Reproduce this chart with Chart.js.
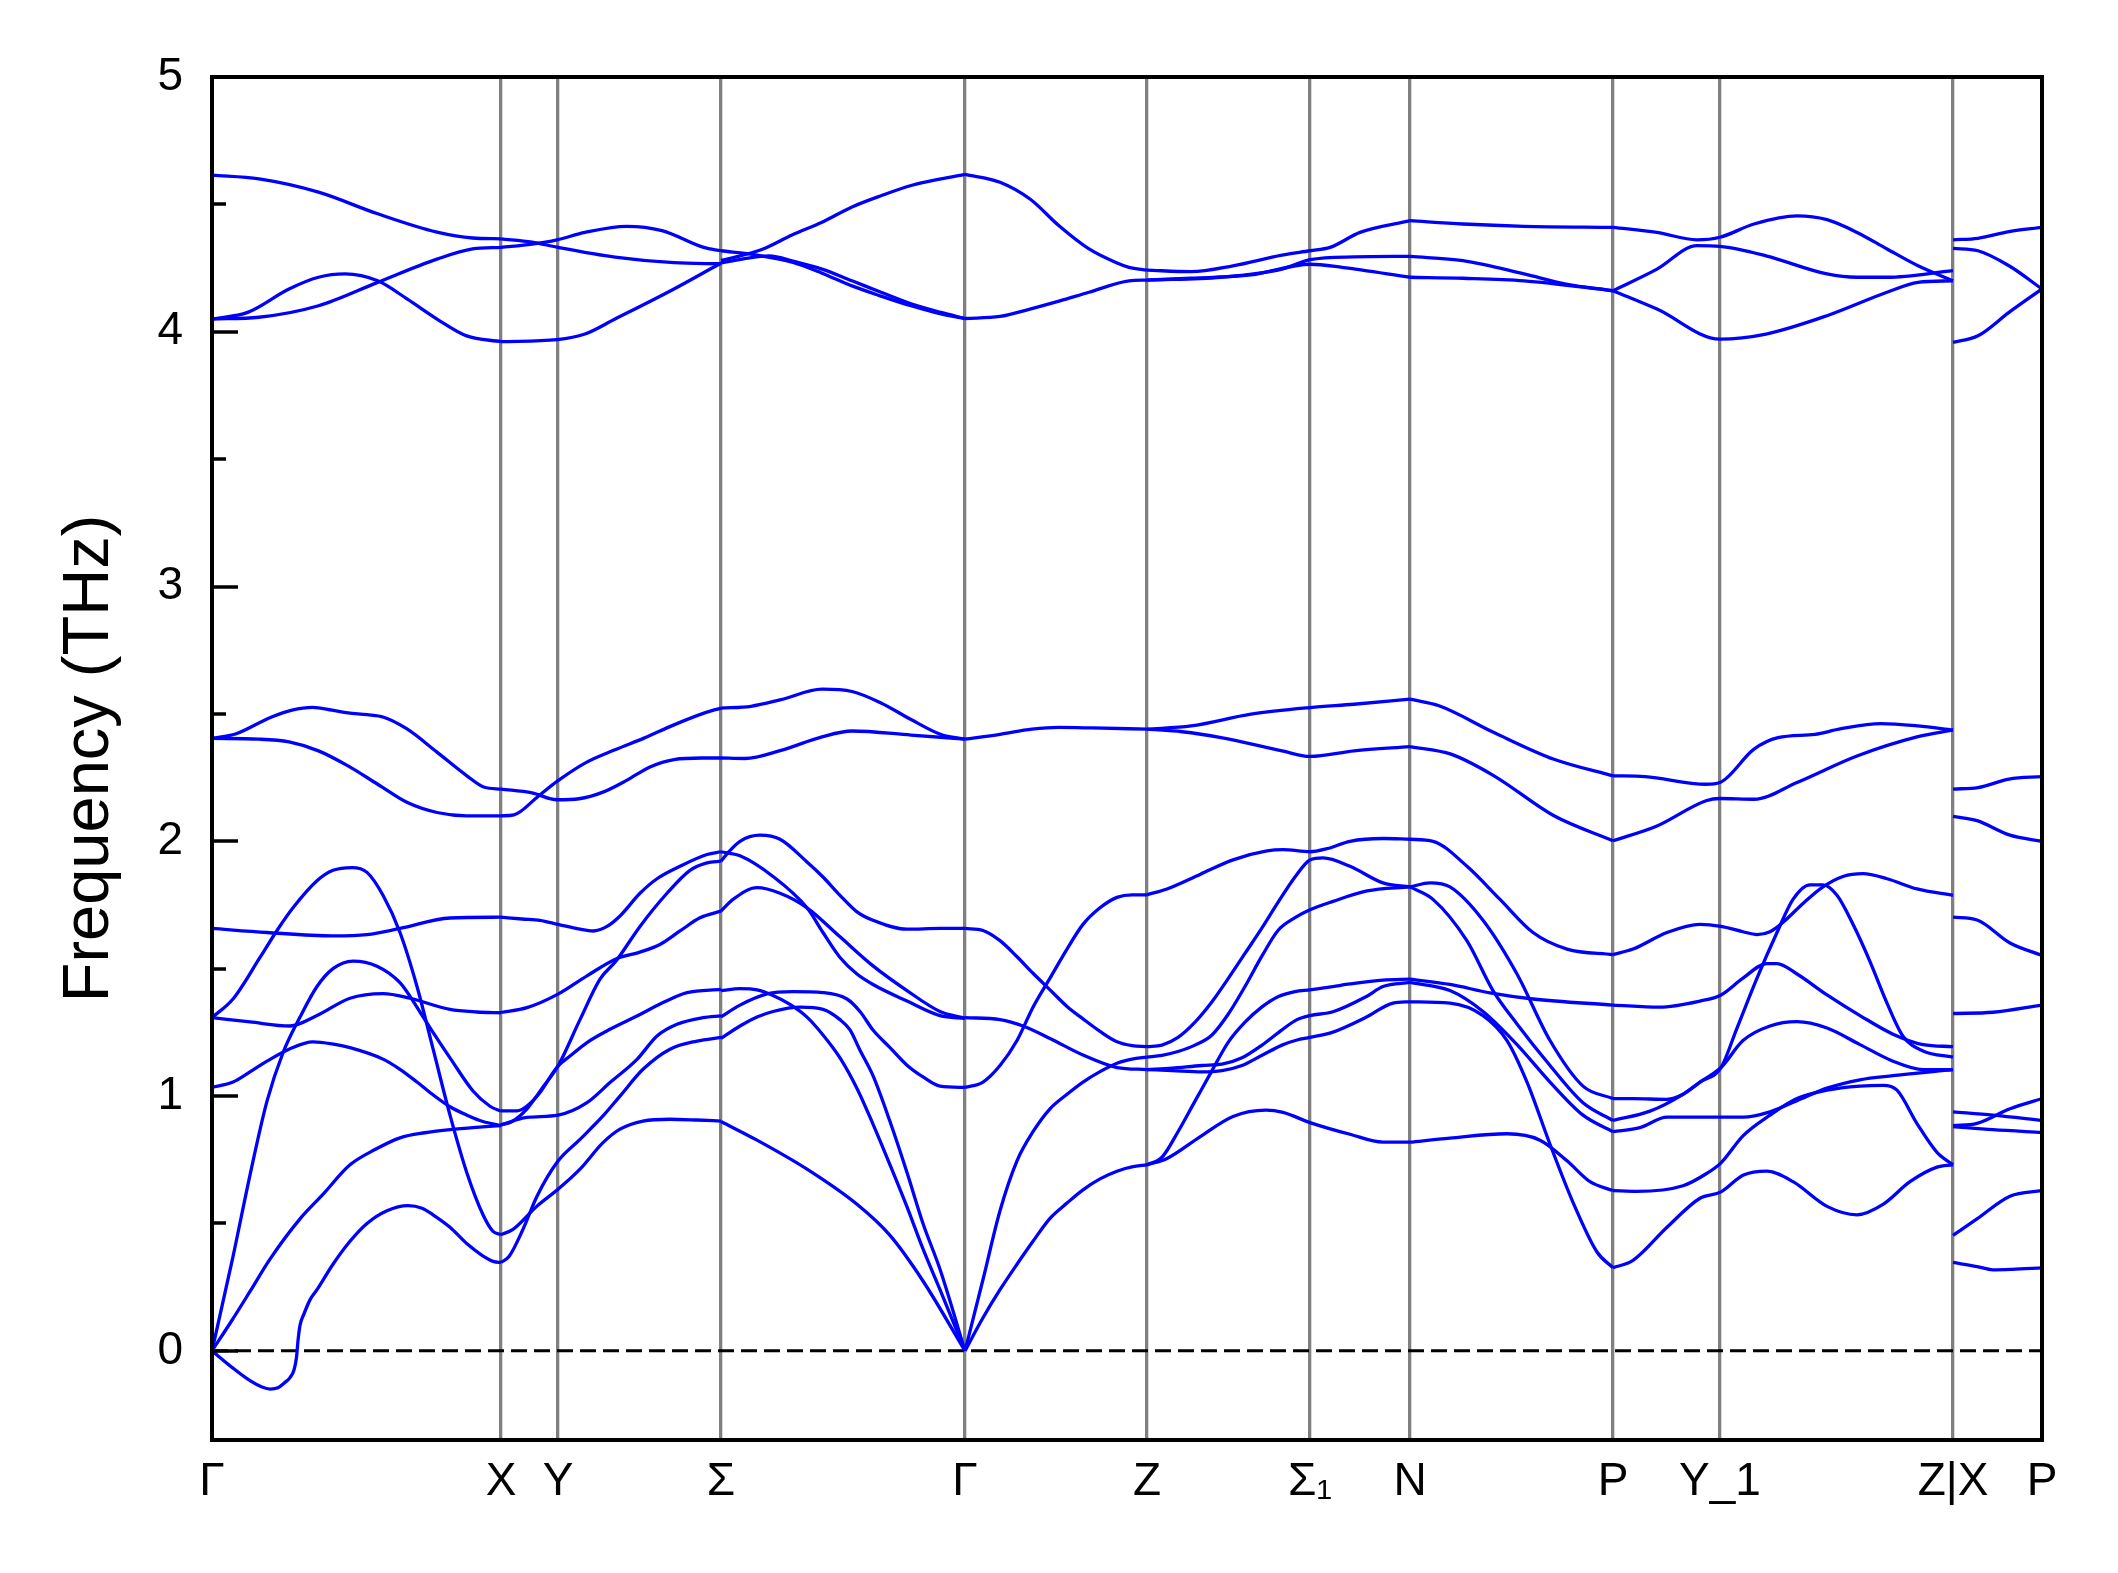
<!DOCTYPE html>
<html>
<head>
<meta charset="utf-8">
<script src="https://cdn.jsdelivr.net/npm/chart.js"></script>
<style>
  html, body { margin: 0; padding: 0; background: #ffffff; }
  #wrap { width: 2118px; height: 1573px; }
</style>
</head>
<body>
<div id="wrap"><canvas id="c" width="2118" height="1573"></canvas></div>
<script>
// High-symmetry points (path coordinate) and labels
const kPos = [0, 289, 346, 509, 753, 935, 1098, 1198, 1401, 1508, 1741, 1830];
const kLabels = ['Γ', 'X', 'Y', 'Σ', 'Γ', 'Z', 'Σ₁', 'N', 'P', 'Y_1', 'Z|X', 'P'];
const yTickVals = [0, 0.5, 1, 1.5, 2, 2.5, 3, 3.5, 4, 4.5, 5];

// Band lines per path section: each line is a list of [k, frequency (THz)]
const secGammaX = [
  [[0,0],[21,-0.068],[38,-0.117],[50,-0.142],[58,-0.15],[66,-0.145],[72,-0.127],[78,-0.105],[82,-0.075],[84.5,-0.025],[86,0.04],[88,0.10],[92,0.145],[98,0.2],[105,0.24],[121,0.34],[138,0.43],[155,0.50],[175,0.55],[196,0.57],[210,0.56],[221,0.534],[238,0.485],[255,0.42],[270,0.375],[282,0.35],[289,0.347]],
  [[0,0],[20,0.12],[38,0.233],[58,0.36],[88,0.518],[110,0.61],[138,0.73],[163,0.79],[188,0.836],[213,0.856],[238,0.868],[264,0.877],[289,0.884]],
  [[0,0],[21,0.37],[38,0.69],[55,0.98],[71,1.17],[88,1.31],[105,1.43],[121,1.50],[141,1.53],[165,1.51],[188,1.445],[208,1.33],[221,1.25],[238,1.15],[261,1.02],[278,0.96],[289,0.94]],
  [[0,1.034],[21,1.055],[40,1.10],[55,1.137],[78,1.186],[101,1.213],[120,1.205],[138,1.19],[171,1.145],[188,1.105],[205,1.055],[221,1.005],[238,0.958],[255,0.925],[271,0.90],[289,0.884]],
  [[0,1.308],[21,1.381],[48,1.544],[65,1.65],[81,1.739],[105,1.845],[121,1.886],[140,1.897],[155,1.878],[171,1.788],[188,1.642],[205,1.43],[221,1.186],[238,0.925],[255,0.697],[271,0.534],[281,0.469],[289,0.456]],
  [[0,1.308],[38,1.291],[78,1.275],[105,1.316],[138,1.384],[171,1.402],[198,1.384],[238,1.34],[265,1.33],[289,1.327]],
  [[0,1.658],[55,1.642],[121,1.629],[155,1.634],[188,1.658],[238,1.699],[289,1.702]],
  [[0,2.404],[23.5,2.421],[59,2.487],[80,2.515],[100.6,2.526],[120,2.515],[136,2.504],[155,2.497],[171.7,2.487],[195,2.441],[225,2.35],[254.6,2.258],[272.4,2.212],[289,2.205]],
  [[0,2.404],[47,2.401],[77,2.39],[106.5,2.355],[136,2.296],[165.7,2.224],[195.4,2.152],[225,2.113],[254.6,2.10],[289,2.10]],
  [[0,4.615],[47,4.60],[106.5,4.548],[165.7,4.463],[225,4.391],[260.6,4.368],[289,4.365]],
  [[0,4.05],[35.6,4.076],[77,4.168],[106.5,4.214],[133,4.227],[165.7,4.20],[195.4,4.128],[225,4.05],[254.6,3.984],[289,3.961]],
  [[0,4.05],[47,4.057],[106.5,4.102],[165.7,4.194],[225,4.285],[260.6,4.325],[289,4.331]]
];

const secXSigma = [
  [[289,0.347],[297,0.37],[311,0.477],[325,0.607],[346,0.745],[368,0.83],[391,0.922],[408,1.0],[431,1.105],[458,1.184],[485,1.216],[509,1.23]],
  [[289,0.456],[301,0.477],[325,0.568],[346,0.634],[368,0.713],[391,0.817],[408,0.87],[431,0.902],[458,0.909],[485,0.906],[509,0.902]],
  [[289,0.887],[315,0.916],[346,0.925],[375,0.974],[398,1.053],[425,1.144],[445,1.236],[465,1.282],[491,1.308],[509,1.315]],
  [[289,0.887],[300,0.90],[315,0.95],[330,1.03],[346,1.118],[368,1.30],[388,1.459],[404,1.53],[428,1.666],[455,1.796],[478,1.886],[495,1.915],[509,1.922]],
  [[289,0.942],[305,0.942],[315,0.961],[328,1.014],[341,1.092],[346,1.118],[358,1.157],[375,1.21],[398,1.262],[425,1.314],[451,1.367],[475,1.406],[509,1.419]],
  [[289,1.328],[315,1.347],[346,1.40],[375,1.472],[405,1.54],[428,1.565],[448,1.595],[468,1.648],[488,1.70],[509,1.726]],
  [[289,1.702],[310,1.695],[328,1.69],[346,1.674],[368,1.655],[381,1.648],[395,1.666],[408,1.707],[428,1.796],[445,1.853],[468,1.902],[495,1.948],[509,1.959]],
  [[289,2.205],[320,2.19],[345,2.163],[367,2.167],[391,2.193],[414.6,2.239],[438,2.292],[462,2.321],[490,2.327],[509,2.327]],
  [[289,2.10],[302,2.104],[326,2.176],[345,2.235],[373,2.307],[403,2.359],[432,2.405],[462,2.457],[492,2.503],[509,2.523]],
  [[289,4.365],[320,4.352],[345,4.332],[403,4.293],[462,4.271],[509,4.267]],
  [[289,3.961],[345,3.969],[373,3.991],[403,4.05],[462,4.168],[509,4.27]],
  [[289,4.331],[320,4.344],[345,4.361],[373,4.39],[414.6,4.414],[450,4.397],[491.7,4.331],[509,4.318]]
];

const secSigmaGamma = [
  [[509,1.922],[515,1.951],[528,2.0],[548,2.024],[568,2.008],[595,1.919],[611,1.86],[628,1.788],[645,1.723],[661,1.69],[695,1.655],[728,1.658],[753,1.658]],
  [[509,1.959],[528,1.943],[561,1.862],[595,1.739],[611,1.642],[628,1.544],[645,1.479],[661,1.438],[695,1.373],[728,1.316],[753,1.305]],
  [[509,1.726],[521,1.772],[545,1.818],[568,1.796],[595,1.739],[628,1.625],[661,1.511],[695,1.414],[728,1.332],[753,1.305]],
  [[509,1.414],[528,1.422],[545,1.417],[561,1.395],[578,1.36],[595,1.31],[611,1.24],[628,1.15],[645,1.03],[661,0.89],[678,0.73],[695,0.565],[711,0.40],[728,0.24],[753,0]],
  [[509,1.311],[528,1.357],[555,1.401],[581,1.41],[611,1.406],[635,1.381],[648,1.332],[661,1.259],[678,1.19],[695,1.121],[711,1.075],[728,1.039],[753,1.034]],
  [[509,1.226],[528,1.275],[545,1.31],[561,1.332],[588,1.349],[611,1.34],[628,1.30],[638,1.26],[648,1.18],[661,1.08],[678,0.90],[695,0.70],[711,0.50],[728,0.32],[753,0]],
  [[509,0.90],[545,0.827],[595,0.713],[645,0.575],[678,0.453],[711,0.274],[753,0]],
  [[509,2.327],[533,2.325],[569,2.357],[610,2.41],[640,2.433],[699,2.417],[753,2.401]],
  [[509,2.523],[539,2.53],[569,2.556],[610,2.597],[640,2.588],[669,2.543],[699,2.478],[729,2.419],[753,2.401]],
  [[509,4.28],[530,4.30],[551,4.325],[580,4.38],[610,4.43],[640,4.49],[669,4.534],[700,4.575],[729,4.60],[753,4.618]],
  [[509,4.318],[545,4.301],[581,4.272],[610,4.23],[640,4.18],[669,4.14],[699,4.102],[729,4.07],[753,4.052]],
  [[509,4.27],[530,4.285],[557,4.298],[583,4.275],[610,4.246],[640,4.20],[669,4.155],[699,4.11],[729,4.076],[753,4.052]]
];

const secGammaZ = [
  [[753,0],[771,0.28],[788,0.55],[805,0.746],[821,0.86],[838,0.95],[855,1.007],[871,1.055],[888,1.096],[905,1.129],[920,1.145],[935,1.153]],
  [[753,0],[771,0.13],[788,0.24],[805,0.34],[821,0.43],[838,0.52],[855,0.58],[871,0.632],[888,0.675],[905,0.705],[920,0.722],[935,0.73]],
  [[753,1.034],[771,1.055],[788,1.12],[805,1.218],[821,1.349],[838,1.463],[855,1.577],[871,1.674],[888,1.739],[905,1.78],[920,1.79],[935,1.79]],
  [[753,1.658],[771,1.65],[788,1.61],[805,1.547],[821,1.482],[838,1.417],[855,1.352],[871,1.303],[888,1.254],[905,1.213],[920,1.198],[935,1.194]],
  [[753,1.308],[788,1.30],[811,1.275],[838,1.226],[871,1.161],[905,1.112],[935,1.104]],
  [[753,2.401],[788,2.42],[820,2.44],[847,2.447],[880,2.445],[935,2.44]],
  [[753,4.618],[788,4.587],[818,4.521],[847,4.416],[877,4.325],[905,4.27],[917,4.253],[935,4.242]],
  [[753,4.052],[788,4.06],[818,4.089],[847,4.12],[877,4.155],[917,4.20],[935,4.203]]
];

const secZN = [
  [[935,1.79],[955,1.813],[988,1.87],[1021,1.927],[1055,1.962],[1071,1.967],[1098,1.959],[1115,1.971],[1138,2.0],[1171,2.011],[1198,2.008]],
  [[935,1.194],[950,1.20],[966,1.23],[983,1.29],[1000,1.37],[1016,1.46],[1033,1.56],[1050,1.66],[1066,1.76],[1083,1.86],[1098,1.927],[1111,1.935],[1138,1.902],[1171,1.837],[1198,1.821]],
  [[935,1.153],[950,1.16],[966,1.175],[983,1.20],[1000,1.24],[1016,1.32],[1033,1.43],[1050,1.55],[1066,1.65],[1083,1.70],[1098,1.731],[1121,1.764],[1155,1.805],[1198,1.821]],
  [[935,1.104],[960,1.11],[990,1.12],[1010,1.125],[1030,1.15],[1050,1.20],[1070,1.26],[1085,1.30],[1098,1.316],[1121,1.331],[1154,1.39],[1171,1.43],[1198,1.446]],
  [[935,1.104],[960,1.10],[990,1.095],[1010,1.10],[1030,1.12],[1050,1.16],[1070,1.20],[1085,1.22],[1098,1.23],[1121,1.251],[1154,1.309],[1181,1.365],[1198,1.37]],
  [[935,0.73],[950,0.76],[966,0.86],[983,0.98],[1000,1.10],[1016,1.21],[1033,1.29],[1050,1.35],[1066,1.39],[1083,1.41],[1098,1.417],[1121,1.43],[1138,1.44],[1171,1.455],[1198,1.459]],
  [[935,0.73],[955,0.755],[988,0.84],[1021,0.92],[1054,0.945],[1071,0.936],[1098,0.896],[1138,0.85],[1171,0.819],[1198,0.819]],
  [[935,2.44],[979,2.453],[1039,2.499],[1098,2.525],[1142,2.538],[1198,2.558]],
  [[935,2.44],[970,2.43],[1009,2.407],[1070,2.355],[1098,2.333],[1142,2.355],[1198,2.372]],
  [[935,4.242],[979,4.236],[1021,4.259],[1070,4.301],[1098,4.318],[1118,4.331],[1148,4.39],[1198,4.436]],
  [[935,4.203],[1009,4.214],[1070,4.246],[1098,4.283],[1142,4.294],[1198,4.296]],
  [[935,4.203],[979,4.21],[1039,4.223],[1098,4.265],[1130,4.253],[1198,4.214]]
];

const secNP = [
  [[1198,2.008],[1221,2.0],[1255,1.902],[1288,1.772],[1321,1.642],[1355,1.577],[1401,1.555]],
  [[1198,1.821],[1218,1.837],[1238,1.821],[1271,1.69],[1305,1.479],[1338,1.218],[1371,1.039],[1401,0.99]],
  [[1198,1.821],[1221,1.772],[1255,1.609],[1281,1.414],[1305,1.283],[1338,1.12],[1371,0.974],[1401,0.904]],
  [[1198,1.459],[1238,1.438],[1278,1.405],[1321,1.381],[1401,1.357]],
  [[1198,1.446],[1238,1.414],[1271,1.332],[1305,1.202],[1338,1.055],[1371,0.925],[1401,0.86]],
  [[1198,1.37],[1238,1.365],[1271,1.316],[1295,1.218],[1315,1.055],[1338,0.811],[1361,0.583],[1385,0.388],[1401,0.326]],
  [[1198,0.819],[1238,0.835],[1295,0.852],[1328,0.827],[1355,0.746],[1378,0.664],[1401,0.629]],
  [[1198,2.558],[1227,2.532],[1282,2.427],[1342,2.322],[1401,2.257]],
  [[1198,2.372],[1239,2.342],[1282,2.257],[1342,2.10],[1401,2.002]],
  [[1198,4.436],[1251,4.423],[1312,4.414],[1401,4.41]],
  [[1198,4.296],[1251,4.279],[1312,4.227],[1354,4.187],[1401,4.161]],
  [[1198,4.214],[1251,4.21],[1312,4.20],[1401,4.161]]
];

const secPZ = [
  [[1401,1.555],[1421,1.577],[1455,1.642],[1488,1.674],[1509,1.666],[1531,1.645],[1545,1.634],[1558,1.645],[1571,1.682],[1591,1.756],[1611,1.821],[1631,1.862],[1651,1.873],[1675,1.853],[1705,1.813],[1741,1.788]],
  [[1401,1.357],[1447,1.349],[1488,1.373],[1509,1.397],[1531,1.463],[1555,1.52],[1565,1.52],[1585,1.479],[1615,1.397],[1648,1.316],[1681,1.243],[1711,1.202],[1741,1.194]],
  [[1401,0.99],[1421,0.99],[1455,0.987],[1471,1.007],[1488,1.055],[1509,1.112],[1525,1.267],[1545,1.463],[1565,1.642],[1581,1.772],[1598,1.829],[1611,1.829],[1625,1.788],[1641,1.674],[1658,1.528],[1675,1.365],[1691,1.235],[1711,1.177],[1741,1.153]],
  [[1401,0.904],[1438,0.941],[1471,1.007],[1488,1.055],[1509,1.112],[1531,1.218],[1558,1.275],[1585,1.292],[1615,1.267],[1648,1.202],[1681,1.137],[1711,1.104],[1741,1.104]],
  [[1401,0.86],[1428,0.876],[1455,0.917],[1509,0.917],[1531,0.917],[1558,0.938],[1585,0.982],[1615,1.031],[1648,1.064],[1681,1.08],[1741,1.104]],
  [[1401,0.629],[1425,0.626],[1471,0.648],[1495,0.697],[1509,0.738],[1531,0.844],[1558,0.925],[1585,0.99],[1615,1.023],[1648,1.039],[1671,1.042],[1685,1.023],[1705,0.892],[1725,0.779],[1741,0.73]],
  [[1401,0.326],[1421,0.355],[1455,0.485],[1488,0.599],[1509,0.624],[1531,0.689],[1555,0.705],[1581,0.664],[1615,0.567],[1645,0.534],[1671,0.575],[1698,0.664],[1725,0.721],[1741,0.73]],
  [[1401,2.257],[1433,2.254],[1494,2.224],[1508,2.231],[1542,2.362],[1566,2.407],[1603,2.42],[1627,2.44],[1669,2.462],[1706,2.453],[1741,2.437]],
  [[1401,2.002],[1445,2.06],[1494,2.159],[1508,2.168],[1542,2.165],[1585,2.231],[1645,2.335],[1706,2.411],[1741,2.437]],
  [[1401,4.41],[1445,4.39],[1485,4.361],[1508,4.371],[1542,4.423],[1585,4.455],[1615,4.44],[1645,4.39],[1675,4.325],[1706,4.259],[1741,4.20]],
  [[1401,4.161],[1445,4.246],[1485,4.338],[1508,4.335],[1554,4.298],[1615,4.227],[1645,4.214],[1675,4.214],[1741,4.24]],
  [[1401,4.161],[1445,4.089],[1508,3.971],[1554,3.991],[1615,4.063],[1675,4.155],[1706,4.194],[1741,4.20]]
];

const secXP = [
  [[1741,0.347],[1765,0.331],[1781,0.318],[1800,0.32],[1830,0.326]],
  [[1741,0.453],[1765,0.518],[1798,0.607],[1830,0.629]],
  [[1741,0.88],[1781,0.868],[1830,0.857]],
  [[1741,0.884],[1765,0.893],[1798,0.95],[1830,0.99]],
  [[1741,0.938],[1781,0.925],[1830,0.904]],
  [[1741,1.324],[1781,1.329],[1830,1.357]],
  [[1741,1.702],[1765,1.691],[1798,1.601],[1830,1.552]],
  [[1741,2.098],[1765,2.081],[1798,2.024],[1830,2.0]],
  [[1741,2.205],[1766,2.211],[1797,2.244],[1830,2.254]],
  [[1741,3.958],[1766,3.984],[1797,4.076],[1830,4.168]],
  [[1741,4.327],[1766,4.318],[1797,4.259],[1830,4.168]],
  [[1741,4.361],[1766,4.367],[1797,4.393],[1830,4.41]]
];

const sections = [secGammaX, secXSigma, secSigmaGamma, secGammaZ, secZN, secNP, secPZ, secXP];

Chart.defaults.font.family = '"Liberation Sans", Arial, "DejaVu Sans", sans-serif';
Chart.defaults.color = '#000000';

const datasets = [];
sections.forEach(sec => sec.forEach(line => {
  datasets.push({
    data: line.map(p => ({x: p[0], y: p[1]})),
    borderColor: '#0000ff',
    borderWidth: 3.3,
    pointRadius: 0,
    fill: false,
    cubicInterpolationMode: 'monotone'
  });
}));
// zero reference line (drawn underneath)
datasets.push({
  data: [{x: kPos[0], y: 0}, {x: kPos[kPos.length - 1], y: 0}],
  borderColor: '#000000',
  borderWidth: 3,
  borderDash: [16, 7],
  pointRadius: 0,
  fill: false,
  tension: 0
});

const framePlugin = {
  id: 'frameAndTicks',
  afterDraw(chart) {
    const {ctx, chartArea: {left, top, right, bottom}} = chart;
    const ys = chart.scales.y;
    ctx.save();
    ctx.strokeStyle = '#000000';
    ctx.lineWidth = 3.5;
    yTickVals.forEach(v => {
      const py = Math.round(ys.getPixelForValue(v));
      const len = Number.isInteger(v) ? 26 : 14;
      ctx.beginPath();
      ctx.moveTo(left, py);
      ctx.lineTo(left + len, py);
      ctx.stroke();
    });
    ctx.lineWidth = 4;
    ctx.strokeRect(left, top, right - left, bottom - top);
    ctx.restore();
  }
};

new Chart(document.getElementById('c'), {
  type: 'line',
  data: { datasets },
  options: {
    responsive: false,
    animation: false,
    devicePixelRatio: 1,
    layout: { padding: { top: 77, right: 76, left: 0, bottom: 0 } },
    plugins: { legend: { display: false }, tooltip: { enabled: false } },
    scales: {
      x: {
        type: 'linear',
        min: kPos[0],
        max: kPos[kPos.length - 1],
        afterBuildTicks: s => { s.ticks = kPos.map(v => ({ value: v })); },
        afterFit: s => { s.height = 133; },
        ticks: {
          autoSkip: false,
          maxRotation: 0,
          padding: 15,
          font: { size: 46 },
          color: '#000000',
          callback: (v, i) => kLabels[i]
        },
        grid: { color: '#808080', lineWidth: 3.3, drawTicks: false },
        border: { display: false }
      },
      y: {
        type: 'linear',
        min: -0.35,
        max: 5,
        afterBuildTicks: s => { s.ticks = yTickVals.map(v => ({ value: v })); },
        afterFit: s => { s.width = 212; },
        ticks: {
          padding: 29,
          font: { size: 46 },
          color: '#000000',
          callback: v => (Number.isInteger(v) ? String(v) : '')
        },
        grid: { display: false, drawTicks: false },
        border: { display: false },
        title: {
          display: true,
          text: 'Frequency (THz)',
          font: { size: 65 },
          color: '#000000',
          padding: { top: 51, bottom: 0 }
        }
      }
    }
  },
  plugins: [framePlugin]
});
</script>
</body>
</html>
